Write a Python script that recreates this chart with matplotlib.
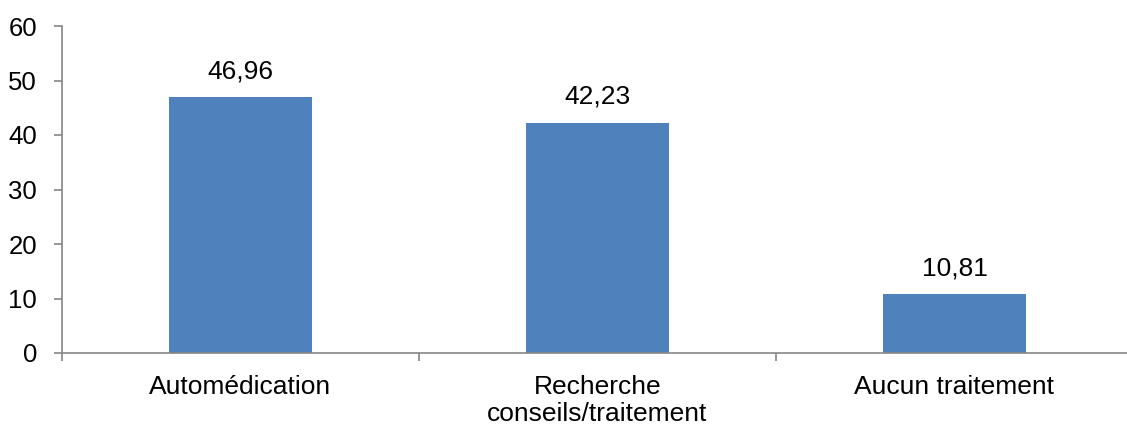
import matplotlib
matplotlib.use('Agg')
import matplotlib.pyplot as plt
from matplotlib.ticker import FixedLocator

categories = ['Automédication', 'Recherche\nconseils/traitement', 'Aucun traitement']
values = [46.96, 42.23, 10.81]
value_labels = ['46,96', '42,23', '10,81']
y_ticks = [0, 10, 20, 30, 40, 50, 60]

plt.rcParams['font.family'] = ['Liberation Sans', 'DejaVu Sans']

fig = plt.figure(figsize=(11.27, 4.25), dpi=100)
ax = fig.add_axes([62 / 1127, 1 - 353 / 425, 1071 / 1127, 327 / 425])

x = list(range(len(categories)))
bars = ax.bar(x, values, width=0.4, color='#4F81BD', zorder=2)
for b, lab in zip(bars, value_labels):
    ax.annotate(lab, (b.get_x() + b.get_width() / 2, b.get_height()),
                xytext=(0, 10), textcoords='offset points',
                ha='center', va='bottom', fontsize=19)

ax.set_xlim(-0.5, len(categories) - 0.5)
ax.set_ylim(0, 60)
ax.set_yticks(y_ticks)
ax.set_xticks(x)
ax.set_xticklabels(categories, fontsize=19, linespacing=1.12)
ax.xaxis.set_minor_locator(FixedLocator([-0.5, 0.5, 1.5, 2.5]))
ax.tick_params(axis='x', which='major', length=0, pad=16)
ax.tick_params(axis='x', which='minor', length=6, width=1.2, color='#868686')
ax.tick_params(axis='y', length=6, width=1.2, color='#868686', labelsize=18.5, pad=12)

for side in ['top', 'right']:
    ax.spines[side].set_visible(False)
for side in ['left', 'bottom']:
    ax.spines[side].set_color('#868686')
    ax.spines[side].set_linewidth(1.2)

fig.savefig('out.png', dpi=100, facecolor='white')
